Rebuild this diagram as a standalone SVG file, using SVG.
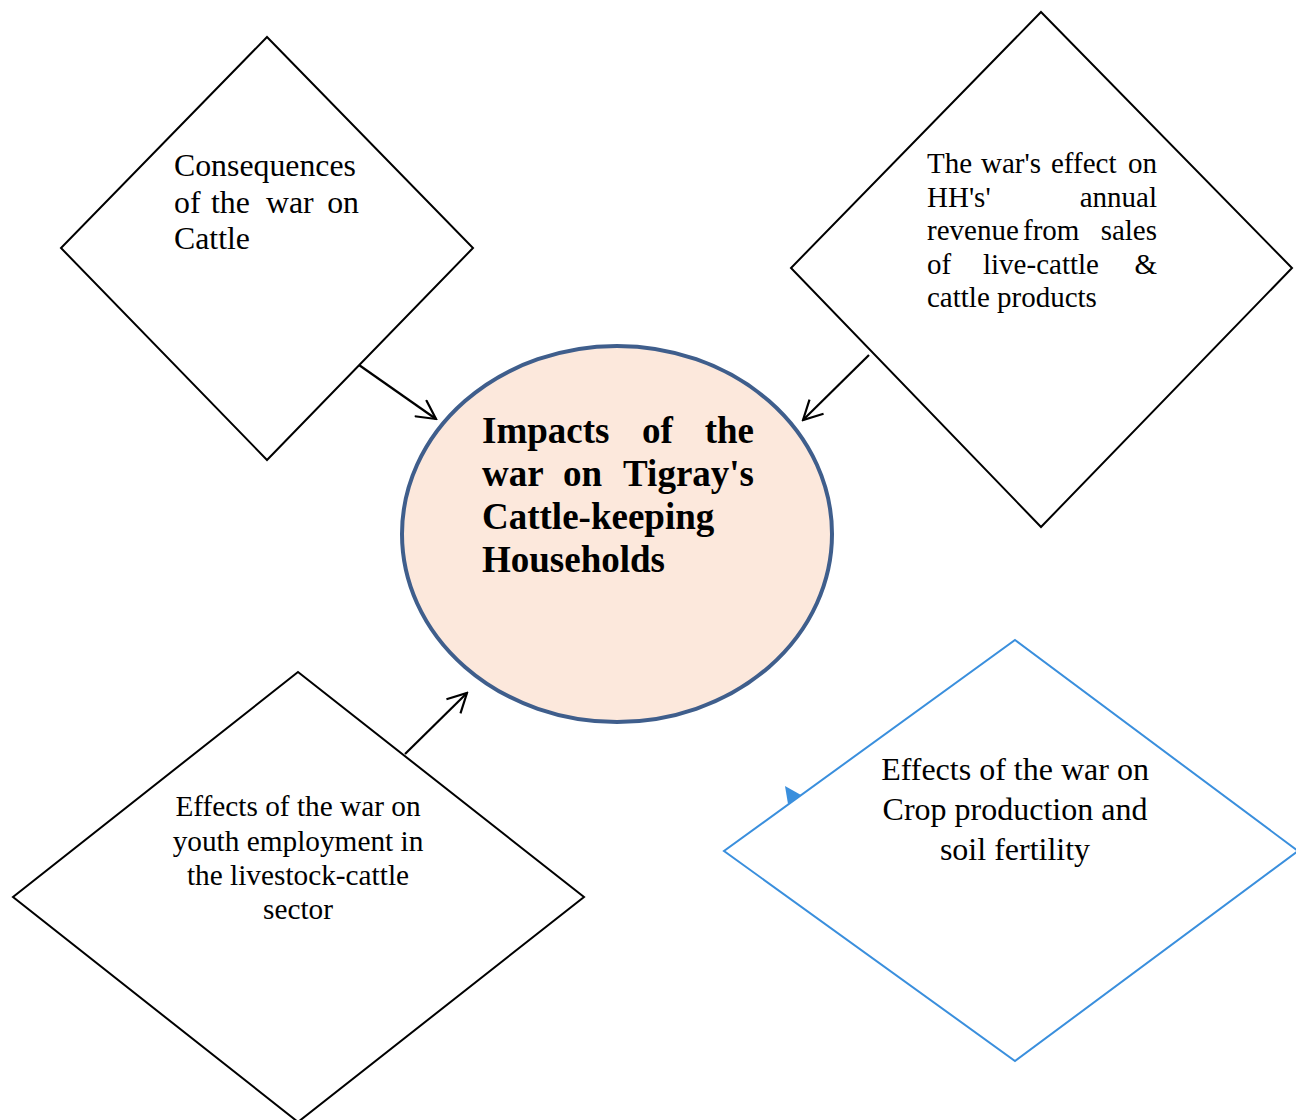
<svg xmlns="http://www.w3.org/2000/svg" width="1296" height="1120" viewBox="0 0 1296 1120">
<defs>
<style>
.dia{fill:#fff;stroke:#000;stroke-width:2}
.blue{fill:#fff;stroke:#3A8FDD;stroke-width:2}
.t{font-family:"Liberation Serif","Times New Roman",serif;fill:#000}
.c{text-anchor:middle}
.b{font-weight:bold}
.conn{stroke:#000;stroke-width:2.2;fill:none}
</style>
<marker id="ah" markerUnits="userSpaceOnUse" viewBox="0 0 22 22" refX="20" refY="11" markerWidth="22" markerHeight="22" orient="auto">
<path d="M1,1 L20,11 L1,21" fill="none" stroke="#000" stroke-width="2.2"/>
</marker>
</defs>
<rect width="1296" height="1120" fill="#fff"/>

<g id="node-consequences">
<polygon class="dia" points="267,37 473,248 267,460 61,248"/>
<text class="t" font-size="31.8" x="174" y="176">Consequences</text>
<text class="t" font-size="31.8" y="213"><tspan x="174">of</tspan><tspan x="211">the</tspan><tspan x="266">war</tspan><tspan x="359" text-anchor="end">on</tspan></text>
<text class="t" font-size="31.8" x="174" y="249">Cattle</text>
</g>

<g id="node-revenue">
<polygon class="dia" points="1041,12 1292,268 1041,527 791,268"/>
<text class="t" font-size="29" y="173"><tspan x="927">The</tspan><tspan x="981">war's</tspan><tspan x="1051">effect</tspan><tspan x="1157" text-anchor="end">on</tspan></text>
<text class="t" font-size="29" y="207"><tspan x="927">HH's'</tspan><tspan x="1157" text-anchor="end">annual</tspan></text>
<text class="t" font-size="29" y="240"><tspan x="927">revenue</tspan><tspan x="1023">from</tspan><tspan x="1157" text-anchor="end">sales</tspan></text>
<text class="t" font-size="29" y="274"><tspan x="927">of</tspan><tspan x="983">live-cattle</tspan><tspan x="1157" text-anchor="end">&amp;</tspan></text>
<text class="t" font-size="29" x="927" y="307">cattle products</text>
</g>

<g id="node-youth">
<polygon class="dia" points="298,672 584,897 298,1122 13,897"/>
<text class="t c" font-size="29.3" x="298" y="816">Effects of the war on</text>
<text class="t c" font-size="29.3" x="298" y="851">youth employment in</text>
<text class="t c" font-size="29.3" x="298" y="885">the livestock-cattle</text>
<text class="t c" font-size="29.3" x="298" y="919">sector</text>
</g>

<g id="node-crop">
<polygon class="blue" points="1015,640 1298,851 1015,1061 724,851"/>
<polygon points="785,786 801,795 788,804" fill="#3A8FDD"/>
<text class="t c" font-size="32" x="1015" y="780">Effects of the war on</text>
<text class="t c" font-size="32" x="1015" y="820">Crop production and</text>
<text class="t c" font-size="32" x="1015" y="860">soil fertility</text>
</g>

<g id="node-center">
<ellipse cx="617" cy="534" rx="215" ry="188" fill="#FCE8DC" stroke="#3F5E8C" stroke-width="4"/>
<text class="t b" font-size="37" y="443"><tspan x="482">Impacts</tspan><tspan x="642">of</tspan><tspan x="754" text-anchor="end">the</tspan></text>
<text class="t b" font-size="37" y="486"><tspan x="482">war</tspan><tspan x="563">on</tspan><tspan x="754" text-anchor="end">Tigray's</tspan></text>
<text class="t b" font-size="37" x="482" y="529">Cattle-keeping</text>
<text class="t b" font-size="37" x="482" y="572">Households</text>
</g>

<g id="connectors">
<line class="conn" x1="359" y1="365" x2="436" y2="419" marker-end="url(#ah)"/>
<line class="conn" x1="869" y1="355" x2="803" y2="420" marker-end="url(#ah)"/>
<line class="conn" x1="405" y1="754" x2="467" y2="693" marker-end="url(#ah)"/>
</g>
</svg>
